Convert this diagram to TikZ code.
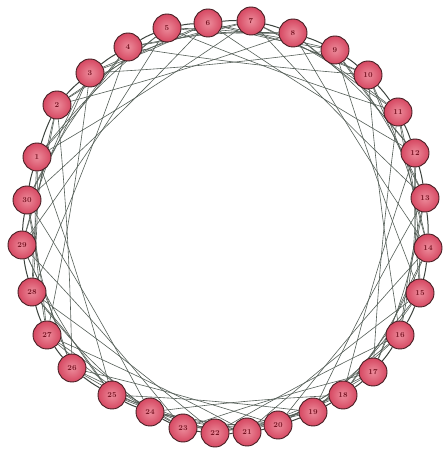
\documentclass[tikz,border=0pt]{standalone}
\usetikzlibrary{backgrounds}
\definecolor{vfill}{RGB}{214,72,98}
\definecolor{vlight}{RGB}{236,140,155}
\definecolor{vdraw}{RGB}{70,30,35}
\definecolor{vtext}{RGB}{120,20,35}
\definecolor{edgec}{RGB}{85,95,88}
\tikzset{
  vtx/.style={circle,draw=vdraw,line width=0.9pt,inner color=vlight,outer color=vfill,
    minimum size=28pt,inner sep=0pt,font=\fontsize{7.5}{7.5}\selectfont\bfseries,text=vtext},
  chord/.style={draw=edgec,line width=0.6pt},
  ringedge/.style={draw=edgec!70!black,line width=1pt}
}
\begin{document}
\begin{tikzpicture}[x=1pt,y=1pt]
\useasboundingbox (0,0) rectangle (444,454);
\foreach \x/\y [count=\i] in {37/157,57/105,90/73,128/47,167/28,208/23,251/21,293/33,335/50,368/75,
  398/112,415/153,425/198,428/248,420/293,400/335,373/372,343/395,313/412,278/425,
  247/432,215/433,183/428,150/412,112/395,72/368,47/335,32/292,22/245,27/200}
  \node[vtx] (n\i) at (\x,{454-\y}) {\i};
\begin{scope}[on background layer]
\fill[white] (0,0) rectangle (444,454);
\foreach \i in {1,...,30}{
  \pgfmathtruncatemacro\ja{mod(\i,30)+1}
  \pgfmathtruncatemacro\jb{mod(\i+2,30)+1}
  \pgfmathtruncatemacro\jd{mod(\i+3,30)+1}
  \pgfmathtruncatemacro\jc{mod(\i+5,30)+1}
  \draw[ringedge] (n\i) to[bend left=4] (n\ja);
  \draw[chord] (n\i) to[bend right=3] (n\jb);
  \draw[chord] (n\i) to[bend left=6] (n\jd);
  \draw[chord] (n\i) to[bend right=2] (n\jc);
}
\end{scope}
\end{tikzpicture}
\end{document}
